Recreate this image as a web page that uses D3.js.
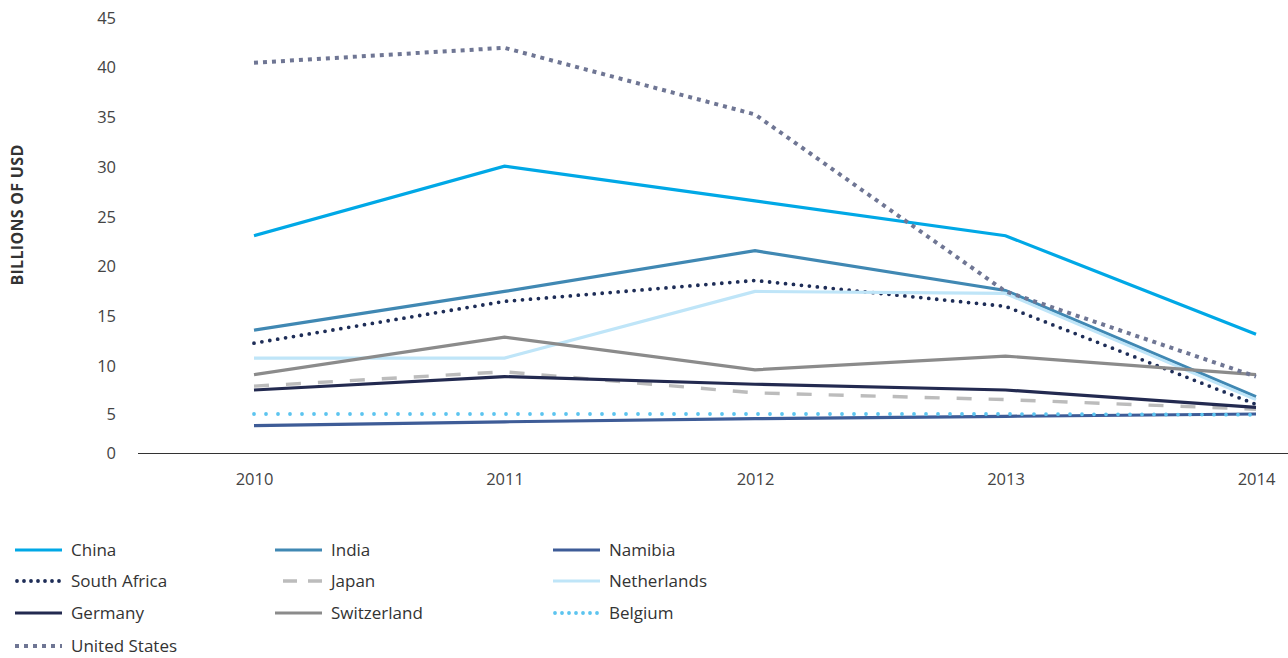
<!DOCTYPE html>
<html>
<head>
<meta charset="utf-8">
<script src="https://cdn.jsdelivr.net/npm/d3@7"></script>
<style>
  body { margin: 0; background: #fff; }
  text { font-family: "Open Sans", "Noto Sans", sans-serif; }
</style>
</head>
<body>
<script>
// datos
var years = ["2010", "2011", "2012", "2013", "2014"];
var yTicks = [0, 5, 10, 15, 20, 25, 30, 35, 40, 45];

var china = [23.1, 30.1, 26.6, 23.1, 13.2];
var india = [13.6, 17.5, 21.6, 17.6, 6.8];
var namibia = [3.5, 4.0, 4.4, 4.7, 5.0];
var southAfrica = [12.3, 16.5, 18.6, 16.0, 6.0];
var japan = [7.9, 9.4, 7.2, 6.5, 5.5];
var netherlands = [10.8, 10.8, 17.5, 17.3, 6.5];
var germany = [7.5, 8.9, 8.1, 7.5, 5.7];
var switzerland = [9.1, 12.9, 9.6, 11.0, 9.1];
var belgium = [5.0, 5.0, 5.0, 5.0, 4.9];
var unitedStates = [40.5, 42.0, 35.3, 17.5, 8.9];

var series = [
  { name: "China", values: china, color: "#00a8e6", dash: null, cap: "butt", w: 3.2 },
  { name: "India", values: india, color: "#4088b3", dash: null, cap: "butt", w: 3.2 },
  { name: "Namibia", values: namibia, color: "#3e5c97", dash: null, cap: "butt", w: 3.2 },
  { name: "South Africa", values: southAfrica, color: "#1e2d57", dash: "0,8", cap: "round", w: 3.8 },
  { name: "Japan", values: japan, color: "#bcbcbc", dash: "15,17", cap: "butt", w: 3.4 },
  { name: "Netherlands", values: netherlands, color: "#bfe5f8", dash: null, cap: "butt", w: 3.2 },
  { name: "Germany", values: germany, color: "#232a50", dash: null, cap: "butt", w: 3.2 },
  { name: "Switzerland", values: switzerland, color: "#8b8b8b", dash: null, cap: "butt", w: 3.2 },
  { name: "Belgium", values: belgium, color: "#5cc4ef", dash: "0,12", cap: "round", w: 3.8 },
  { name: "United States", values: unitedStates, color: "#6f7694", dash: "4,5", cap: "butt", w: 4 }
];

var vis = {
  width: 1288,
  height: 658
};

var svg = d3.select("body").append("svg")
  .attr("width", vis.width)
  .attr("height", vis.height);

var x = d3.scalePoint()
  .domain(years)
  .range([254, 1256]);

// el eje no es uniforme abajo (0-5 mas corto)
var y = d3.scaleLinear()
  .domain([0, 5, 10, 45])
  .range([453, 414, 366, 18]);

// eje y
var yAxis = svg.append("g")
  .attr("transform", "translate(116,0)")
  .call(d3.axisLeft(y).tickValues(yTicks).tickSize(0).tickPadding(0));
yAxis.select(".domain").remove();
yAxis.selectAll("text")
  .attr("fill", "#444")
  .style("font-size", "16.5px")
  .style("font-family", "'Open Sans', sans-serif");

svg.append("text")
  .attr("transform", "translate(23,215) rotate(-90)")
  .attr("text-anchor", "middle")
  .attr("fill", "#333")
  .style("font-size", "16px")
  .style("font-weight", "bold")
  .style("letter-spacing", "0.3px")
  .text("BILLIONS OF USD");

// eje x
var xAxis = svg.append("g")
  .attr("transform", "translate(0,453)")
  .call(d3.axisBottom(x).tickSize(0).tickPadding(20));
xAxis.select(".domain").remove();
xAxis.selectAll("text")
  .attr("fill", "#444")
  .style("font-size", "16.5px")
  .style("font-family", "'Open Sans', sans-serif");

svg.append("line")
  .attr("x1", 138).attr("x2", 1288)
  .attr("y1", 453.5).attr("y2", 453.5)
  .attr("stroke", "#333")
  .attr("stroke-width", 1);

// lineas
var line = d3.line()
  .x(function(d, i) { return x(years[i]); })
  .y(function(d) { return y(d); });

svg.selectAll("path.serie")
  .data(series)
  .enter()
  .append("path")
  .attr("class", "serie")
  .attr("d", function(s) { return line(s.values); })
  .attr("fill", "none")
  .attr("stroke", function(s) { return s.color; })
  .attr("stroke-width", function(s) { return s.w; })
  .attr("stroke-linecap", function(s) { return s.cap; })
  .attr("stroke-dasharray", function(s) { return s.dash; });

// leyenda
var legendOrder = ["China", "India", "Namibia", "South Africa", "Japan", "Netherlands",
                   "Germany", "Switzerland", "Belgium", "United States"];
var legendX = [15, 275, 553];
var legendY = [550, 581, 613, 646];

var leg = svg.selectAll("g.leyenda")
  .data(legendOrder.map(function(n) {
    return series.find(function(s) { return s.name === n; });
  }))
  .enter()
  .append("g")
  .attr("class", "leyenda")
  .attr("transform", function(d, i) {
    return "translate(" + legendX[i % 3] + "," + legendY[Math.floor(i / 3)] + ")";
  });

leg.append("line")
  .attr("x1", function(d) { return d.cap === "round" ? 2 : 0; })
  .attr("x2", 47)
  .attr("y1", 0).attr("y2", 0)
  .attr("stroke", function(d) { return d.color; })
  .attr("stroke-width", function(d) { return d.w; })
  .attr("stroke-linecap", function(d) { return d.cap; })
  .attr("stroke-dasharray", function(d) {
    if (d.name === "Japan") return "0,8,14,11,14,10";
    if (d.name === "South Africa") return "0,7";
    if (d.name === "Belgium") return "0,7";
    return d.dash;
  });

leg.append("text")
  .attr("x", 56)
  .attr("y", 0)
  .attr("dy", "0.35em")
  .attr("fill", "#333")
  .style("font-size", "17px")
  .text(function(d) { return d.name; });
</script>
</body>
</html>
